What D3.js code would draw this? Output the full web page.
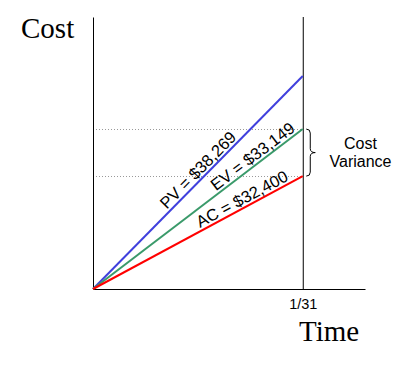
<!DOCTYPE html>
<html lang="en">
<head>
<meta charset="utf-8">
<script src="https://cdn.jsdelivr.net/npm/d3@7"></script>
<style>
  body { margin: 0; background: #fff; }
  .serif { font-family: "Liberation Serif", "Times New Roman", serif; font-size: 29px; }
  .sans { font-family: "Liberation Sans", Arial, sans-serif; }
</style>
</head>
<body>
<div id="chart"></div>
<script>
// series (drawn heights are schematic, 0-100 of the y range)
var names = ["PV", "EV", "AC"];
var amounts = ["$38,269", "$33,149", "$32,400"];
var levels = [78.3, 58.8, 41.5];
var colors = ["#4040dd", "#3a9a6a", "#ff0000"];
var labelAt = [0.53, 0.786, 0.73];   // where along each line the label sits
var endDay = 31;
var tickLabels = ["1/31"];

var width = 405, height = 368;
var svg = d3.select("#chart").append("svg")
    .attr("width", width)
    .attr("height", height);

var x = d3.scaleLinear().domain([0, 40.2]).range([93, 365]);
var y = d3.scaleLinear().domain([0, 100]).range([289, 17]);

// dotted guides at EV and AC
svg.selectAll("line.guide")
    .data([levels[1], levels[2]])
    .enter().append("line")
    .attr("class", "guide")
    .attr("x1", x(0)).attr("x2", x(endDay))
    .attr("y1", function(d) { return Math.round(y(d)) + 0.5; })
    .attr("y2", function(d) { return Math.round(y(d)) + 0.5; })
    .attr("stroke", "#999")
    .attr("stroke-dasharray", "1,2");

// axes
var xAxis = d3.axisBottom(x)
    .tickValues([endDay])
    .tickFormat(function(d, i) { return tickLabels[i]; })
    .tickSizeInner(-(y(0) - y(100)))
    .tickSizeOuter(0)
    .tickPadding(9.5);

svg.append("g")
    .attr("transform", "translate(0," + y(0) + ")")
    .call(xAxis)
    .call(function(g) {
      g.selectAll("text").attr("class", "sans").style("font-size", "14.5px").attr("fill", "#000");
      g.selectAll("line, path").attr("stroke", "#000");
    });

svg.append("g")
    .attr("transform", "translate(" + x(0) + ",0)")
    .call(d3.axisLeft(y).ticks(0).tickSizeOuter(0))
    .call(function(g) { g.select("path").attr("stroke", "#000"); });

// the three lines
var series = names.map(function(n, i) {
  return { name: n, amount: amounts[i], level: levels[i], color: colors[i], t: labelAt[i] };
});

var line = d3.line()
    .x(function(d) { return x(d[0]); })
    .y(function(d) { return y(d[1]); });

svg.selectAll("path.series")
    .data(series)
    .enter().append("path")
    .attr("class", "series")
    .attr("d", function(d) { return line([[0, 0], [endDay, d.level]]); })
    .attr("fill", "none")
    .attr("stroke", function(d) { return d.color; })
    .attr("stroke-width", 2);

svg.selectAll("text.label")
    .data(series)
    .enter().append("text")
    .attr("class", "sans label")
    .style("font-size", "16.5px")
    .attr("text-anchor", "middle")
    .attr("dy", -3)
    .attr("transform", function(d) {
      var px = x(endDay * d.t), py = y(d.level * d.t);
      var ang = Math.atan2(y(d.level) - y(0), x(endDay) - x(0)) * 180 / Math.PI;
      return "translate(" + px + "," + py + ") rotate(" + ang + ")";
    })
    .text(function(d) { return d.name + " = " + d.amount; });

// brace for cost variance
var braceTop = y(levels[1]), braceBot = y(levels[2]);
var braceMid = (braceTop + braceBot) / 2, bx = x(endDay) + 3.5;
svg.append("path")
    .attr("d", "M" + bx + "," + braceTop + " q4,0 4,4 L" + (bx + 4) + "," + (braceMid - 4) +
      " q0,4 5,4 q-5,0 -5,4 L" + (bx + 4) + "," + (braceBot - 4) + " q0,4 -4,4")
    .attr("fill", "none")
    .attr("stroke", "#000")
    .attr("stroke-width", 1);

var cv = svg.append("text").attr("class", "sans").style("font-size", "16px")
    .attr("text-anchor", "middle");
cv.append("tspan").attr("x", 360.5).attr("y", 149).text("Cost");
cv.append("tspan").attr("x", 360.5).attr("y", 166.7).text("Variance");

// axis titles
svg.append("text").attr("class", "serif").attr("x", 21).attr("y", 38).text("Cost");
svg.append("text").attr("class", "serif").attr("x", 299).attr("y", 341).text("Time");
</script>
</body>
</html>
